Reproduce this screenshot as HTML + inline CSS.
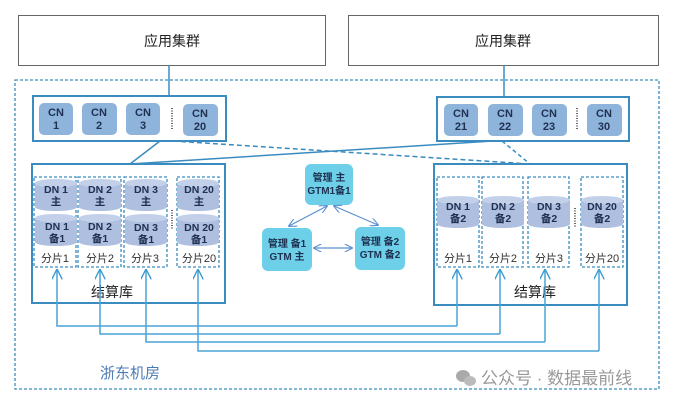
<!DOCTYPE html>
<html><head><meta charset="utf-8"><style>
body{margin:0;background:#fff}
svg{display:block}
text{font-family:"Liberation Sans","Noto Sans CJK SC",sans-serif}
</style></head><body>
<svg width="673" height="406" viewBox="0 0 673 406" xmlns="http://www.w3.org/2000/svg">
<defs>
<marker id="a" viewBox="0 0 10 10" refX="9" refY="5" markerWidth="7" markerHeight="7" orient="auto-start-reverse"><path d="M0,0 L10,5 L0,10" fill="none" stroke="#5a8fd0" stroke-width="1.3"/></marker>
<marker id="b" viewBox="0 0 10 10" refX="9" refY="5" markerWidth="7" markerHeight="7" orient="auto-start-reverse"><path d="M0,0 L10,5 L0,10" fill="none" stroke="#3a9ad0" stroke-width="1.3"/></marker>
<g id="cyl"><path d="M0,4 a21,4 0 0 0 42,0 v24 a21,4 0 0 1 -42,0 z" fill="#aebfe0"/><ellipse cx="21" cy="4" rx="21" ry="4" fill="#c3d0ea"/></g>
</defs>
<rect width="673" height="406" fill="#fff"/>
<rect x="18.5" y="15.5" width="307" height="50" fill="#fff" stroke="#666" stroke-width="1"/>
<text x="172" y="46" font-size="14" text-anchor="middle" fill="#222">应用集群</text>
<rect x="348.5" y="15.5" width="310" height="50" fill="#fff" stroke="#666" stroke-width="1"/>
<text x="503" y="46" font-size="14" text-anchor="middle" fill="#222">应用集群</text>
<rect x="15" y="80" width="644" height="309" fill="none" stroke="#3a8cc0" stroke-width="1.3" stroke-dasharray="3,2"/>
<line x1="169" y1="65" x2="169" y2="96" stroke="#3a8cc0" stroke-width="1.5"/>
<line x1="504" y1="65" x2="504" y2="97" stroke="#3a8cc0" stroke-width="1.5"/>
<rect x="33" y="96" width="193" height="45" fill="#fff" stroke="#3a8cc0" stroke-width="2"/>
<rect x="437" y="97" width="192" height="44" fill="#fff" stroke="#3a8cc0" stroke-width="2"/>
<g font-size="11" font-weight="bold" fill="#1f3050" text-anchor="middle">
<rect x="39" y="103" width="34" height="32" rx="5" fill="#8fb4dc"/><text x="56" y="116">CN</text><text x="56" y="129">1</text>
<rect x="82" y="103" width="35" height="32" rx="5" fill="#8fb4dc"/><text x="99" y="116">CN</text><text x="99" y="129">2</text>
<rect x="126" y="103" width="34" height="32" rx="5" fill="#8fb4dc"/><text x="143" y="116">CN</text><text x="143" y="129">3</text>
<rect x="183" y="104" width="35" height="32" rx="5" fill="#8fb4dc"/><text x="200" y="117">CN</text><text x="200" y="130">20</text>
<rect x="444" y="104" width="34" height="32" rx="5" fill="#8fb4dc"/><text x="461" y="117">CN</text><text x="461" y="130">21</text>
<rect x="488" y="104" width="35" height="32" rx="5" fill="#8fb4dc"/><text x="505" y="117">CN</text><text x="505" y="130">22</text>
<rect x="532" y="104" width="35" height="32" rx="5" fill="#8fb4dc"/><text x="549" y="117">CN</text><text x="549" y="130">23</text>
<rect x="587" y="104" width="35" height="32" rx="5" fill="#8fb4dc"/><text x="604" y="117">CN</text><text x="604" y="130">30</text>
</g>
<line x1="172" y1="108" x2="172" y2="130" stroke="#333" stroke-width="1.5" stroke-dasharray="1,1.5"/>
<line x1="577" y1="108" x2="577" y2="130" stroke="#333" stroke-width="1.5" stroke-dasharray="1,1.5"/>
<line x1="160" y1="141" x2="130" y2="164" stroke="#3a8cc0" stroke-width="1.5"/>
<line x1="130" y1="164" x2="493" y2="141" stroke="#3a8cc0" stroke-width="1.5"/>
<line x1="173" y1="141" x2="530" y2="164" stroke="#3a8cc0" stroke-width="1.5" stroke-dasharray="5,3"/>
<line x1="502" y1="141" x2="530" y2="164" stroke="#3a8cc0" stroke-width="1.5" stroke-dasharray="4,3"/>
<rect x="32" y="164" width="193" height="139" fill="#fff" stroke="#3a8cc0" stroke-width="2"/>
<g fill="none" stroke="#3a8cc0" stroke-width="1.3" stroke-dasharray="3,2">
<rect x="34" y="177" width="42" height="90"/><rect x="78" y="177" width="43" height="90"/><rect x="124" y="177" width="43" height="90"/><rect x="177" y="177" width="42" height="90"/>
<rect x="437" y="177" width="42" height="90"/><rect x="482" y="177" width="41" height="90"/><rect x="528" y="177" width="41" height="90"/><rect x="581" y="177" width="42" height="90"/>
</g>
<g font-size="10.5" font-weight="bold" fill="#1f3050" text-anchor="middle">
<use href="#cyl" x="35" y="179"/><use href="#cyl" x="35" y="214"/><text x="56" y="193">DN 1</text><text x="56" y="205">主</text><text x="57" y="230">DN 1</text><text x="57" y="242">备1</text>
<use href="#cyl" x="79" y="179"/><use href="#cyl" x="79" y="214"/><text x="100" y="193">DN 2</text><text x="100" y="205">主</text><text x="100" y="230">DN 2</text><text x="100" y="242">备1</text>
<use href="#cyl" x="125" y="179"/><use href="#cyl" x="125" y="214"/><text x="146" y="193">DN 3</text><text x="146" y="205">主</text><text x="146" y="231">DN 3</text><text x="146" y="243">备1</text>
<use href="#cyl" x="177" y="179"/><use href="#cyl" x="177" y="214"/><text x="199" y="193">DN 20</text><text x="199" y="205">主</text><text x="199" y="231">DN 20</text><text x="199" y="243">备1</text>
<use href="#cyl" x="437" y="196"/><text x="458" y="210">DN 1</text><text x="458" y="222">备2</text>
<use href="#cyl" x="482" y="196"/><text x="503" y="210">DN 2</text><text x="503" y="222">备2</text>
<use href="#cyl" x="528" y="196"/><text x="549" y="210">DN 3</text><text x="549" y="222">备2</text>
<use href="#cyl" x="581" y="196"/><text x="602" y="210">DN 20</text><text x="602" y="222">备2</text>
</g>
<line x1="172" y1="210" x2="172" y2="230" stroke="#333" stroke-width="1.5" stroke-dasharray="1,1.5"/>
<line x1="575" y1="208" x2="575" y2="228" stroke="#333" stroke-width="1.5" stroke-dasharray="1,1.5"/>
<g font-size="11" fill="#333" text-anchor="middle">
<text x="55" y="262">分片1</text><text x="100" y="262">分片2</text><text x="145" y="262">分片3</text><text x="199" y="262">分片20</text>
<text x="458" y="262">分片1</text><text x="503" y="262">分片2</text><text x="549" y="262">分片3</text><text x="602" y="262">分片20</text>
</g>
<text x="112" y="297" font-size="14" fill="#222" text-anchor="middle">结算库</text>
<rect x="434" y="164" width="193" height="141" fill="none" stroke="#3a8cc0" stroke-width="2"/>
<text x="535" y="297" font-size="14" fill="#222" text-anchor="middle">结算库</text>
<g fill="none" stroke="#4aa3d5" stroke-width="1.5" marker-end="url(#b)">
<polyline points="457,326 57,326 57,270"/>
<polyline points="500,334 100,334 100,270"/>
<polyline points="545,342 146,342 146,270"/>
<polyline points="599,351 198,351 198,270"/>
<line x1="457" y1="326" x2="457" y2="270"/>
<line x1="500" y1="334" x2="500" y2="270"/>
<line x1="545" y1="342" x2="545" y2="270"/>
<line x1="599" y1="351" x2="599" y2="270"/>
</g>
<g font-size="10" font-weight="bold" fill="#1f3050" text-anchor="middle">
<rect x="305" y="164" width="48" height="41" rx="6" fill="#6dcfe8"/><text x="329" y="181">管理 主</text><text x="329" y="194">GTM1备1</text>
<rect x="262" y="228" width="50" height="43" rx="6" fill="#6dcfe8"/><text x="287" y="247">管理 备1</text><text x="287" y="260">GTM 主</text>
<rect x="355" y="227" width="50" height="43" rx="6" fill="#6dcfe8"/><text x="380" y="245">管理 备2</text><text x="380" y="258">GTM 备2</text>
</g>
<g stroke="#5a8fd0" stroke-width="1.2" fill="none">
<line x1="327" y1="206" x2="289" y2="226" marker-start="url(#a)" marker-end="url(#a)"/>
<line x1="334" y1="206" x2="378" y2="225" marker-start="url(#a)" marker-end="url(#a)"/>
<line x1="314" y1="248" x2="352" y2="248" marker-start="url(#a)" marker-end="url(#a)"/>
</g>
<text x="100" y="378" font-size="15" fill="#4a7ab5">浙东机房</text>
<g fill="#aaa"><ellipse cx="463" cy="376" rx="7" ry="6"/><ellipse cx="470" cy="381" rx="6" ry="5" fill="#bbb"/></g>
<text x="481" y="384" font-size="17" fill="#999">公众号 · 数据最前线</text>
</svg>
</body></html>
